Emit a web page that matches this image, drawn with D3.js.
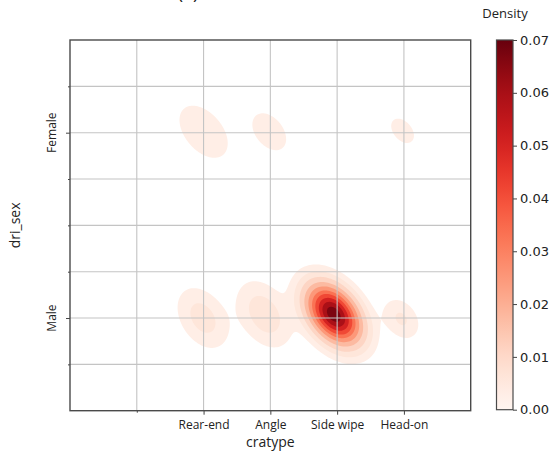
<!doctype html>
<html>
<head>
  <meta charset="utf-8">
  <title>KDE: cratype vs dri_sex</title>
  <script src="https://cdnjs.cloudflare.com/ajax/libs/d3/7.8.5/d3.min.js"></script>
  <style>
    body { margin: 0; background: #fff; }
    text { font-family: "Open Sans", sans-serif; fill: #222; }
    .cbar text { font-family: "DejaVu Sans", sans-serif; }
  </style>
</head>
<body>
<svg id="chart" width="556" height="457"></svg>
<script>
// categories (coded 0..n-1 on the axes)
const crashTypes = ['Rear-end', 'Angle', 'Side wipe', 'Head-on'];
const sexes = ['Male', 'Female'];
const densityTicks = [0, 0.01, 0.02, 0.03, 0.04, 0.05, 0.06, 0.07];
// contour levels of the filled kde
const levels = [0.0015, 0.004, 0.008, 0.014, 0.021, 0.029, 0.037, 0.046, 0.055, 0.064];

// kde bumps, in axis units
const bumpX    = [1.95, -0.01, 0.91, 2.96, 0.0, 0.985, 2.98];
const bumpY    = [0.02, 0.0, 0.02, -0.005, 1.005, 1.005, 1.01];
const bumpPeak = [0.07, 0.0055, 0.0062, 0.0045, 0.0035, 0.0028, 0.0022];
const bumpSdX  = [0.245, 0.235, 0.245, 0.172, 0.277, 0.225, 0.195];
const bumpSdY  = [0.097, 0.1, 0.106, 0.069, 0.108, 0.089, 0.075];
const bumpRho  = [-0.4, -0.35, -0.35, -0.3, -0.45, -0.4, -0.4];

const svg = d3.select('#chart');
const mLeft = 70, mRight = 470.7, mTop = 40, mBottom = 410.7;

const x = d3.scaleLinear().domain([-2, 4]).range([mLeft, mRight]);
const y = d3.scaleLinear().domain([-0.5, 1.5]).range([mBottom, mTop]);
const vmax = 0.07;

function density(xv, yv) {
  let s = 0;
  for (let k = 0; k < bumpX.length; k++) {
    const u = (xv - bumpX[k]) / bumpSdX[k];
    const v = (yv - bumpY[k]) / bumpSdY[k];
    const r = bumpRho[k];
    s += bumpPeak[k] * Math.exp(-0.5 / (1 - r * r) * (u * u - 2 * r * u * v + v * v));
  }
  return s;
}

// sample the field on a grid over the plot area
const step = 1.5;
const nx = Math.ceil((mRight - mLeft) / step) + 1;
const ny = Math.ceil((mBottom - mTop) / step) + 1;
const values = new Array(nx * ny);
for (let j = 0; j < ny; j++) {
  for (let i = 0; i < nx; i++) {
    values[j * nx + i] = density(x.invert(mLeft + i * step), y.invert(mTop + j * step));
  }
}

const contours = d3.contours().size([nx, ny]).thresholds(levels)(values);
const toPx = d3.geoTransform({
  point: function (gx, gy) {
    this.stream.point(mLeft + (gx - 0.5) * step, mTop + (gy - 0.5) * step);
  }
});
const path = d3.geoPath(toPx);

svg.append('clipPath').attr('id', 'plotclip')
  .append('rect').attr('x', mLeft).attr('y', mTop)
  .attr('width', mRight - mLeft).attr('height', mBottom - mTop);

svg.append('g')
  .attr('clip-path', 'url(#plotclip)')
  .selectAll('path')
  .data(contours)
  .join('path')
  .attr('d', path)
  .attr('fill', (d, i) => {
    const hi = i + 1 < levels.length ? levels[i + 1] : vmax;
    return d3.interpolateReds((levels[i] + hi) / 2 / vmax);
  });

// grid on top of the fills
const xGrid = [-1, 0, 1, 2, 3];
const yGrid = d3.range(-0.25, 1.26, 0.25);
svg.append('g').selectAll('line').data(xGrid).join('line')
  .attr('x1', d => x(d)).attr('x2', d => x(d))
  .attr('y1', mTop).attr('y2', mBottom)
  .attr('stroke', '#c4c4c4').attr('stroke-width', 1.1);
svg.append('g').selectAll('line').data(yGrid).join('line')
  .attr('y1', d => y(d)).attr('y2', d => y(d))
  .attr('x1', mLeft).attr('x2', mRight)
  .attr('stroke', '#c4c4c4').attr('stroke-width', 1.1);

// axes
const xAxis = d3.axisBottom(x).tickValues(xGrid)
  .tickFormat(d => crashTypes[d] || '').tickSize(4).tickPadding(6);
const gx = svg.append('g').attr('transform', `translate(0,${mBottom})`).call(xAxis);
gx.select('.domain').remove();
gx.selectAll('.tick line').attr('stroke', '#444').attr('y2', d => d < 0 ? 2 : 4);
gx.selectAll('.tick text').style('font-size', '12px').style('font-family', '"Open Sans", sans-serif').attr('fill', '#222');

const yAxis = d3.axisLeft(y).tickValues(yGrid).tickFormat(() => '').tickSize(4);
const gy = svg.append('g').attr('transform', `translate(${mLeft},0)`).call(yAxis);
gy.select('.domain').remove();
gy.selectAll('.tick line').attr('stroke', '#444')
  .attr('x2', d => Math.abs(d - Math.round(d)) < 1e-6 ? -4 : -2);

svg.append('g').selectAll('text').data(sexes).join('text')
  .attr('transform', (d, i) => `translate(56,${y(i)}) rotate(-90)`)
  .attr('text-anchor', 'middle')
  .style('font-size', '12px')
  .text(d => d);

svg.append('rect')
  .attr('x', mLeft).attr('y', mTop)
  .attr('width', mRight - mLeft).attr('height', mBottom - mTop)
  .attr('fill', 'none').attr('stroke', '#4a4a4a').attr('stroke-width', 1.4);

svg.append('text').attr('x', (mLeft + mRight) / 2).attr('y', 447)
  .attr('text-anchor', 'middle').style('font-size', '14px').text('cratype');
svg.append('text')
  .attr('transform', `translate(19.5,${(mTop + mBottom) / 2}) rotate(-90)`)
  .attr('text-anchor', 'middle').style('font-size', '14px').text('dri_sex');

// panel label, cut off at the top edge as in the source figure
svg.append('text').attr('x', 188).attr('y', -1.5)
  .attr('text-anchor', 'middle').style('font-size', '18px').text('(a)');

// colour bar
const cb = svg.append('g').attr('class', 'cbar');
const cbX = 496.5, cbW = 16.5;
const c = d3.scaleLinear().domain([0, vmax]).range([mBottom - 1, mTop]);
const grad = svg.append('defs').append('linearGradient')
  .attr('id', 'reds').attr('x1', 0).attr('y1', 1).attr('x2', 0).attr('y2', 0);
grad.selectAll('stop').data(d3.range(0, 1.001, 0.05)).join('stop')
  .attr('offset', d => d)
  .attr('stop-color', d => d3.interpolateReds(d));
cb.append('rect')
  .attr('x', cbX).attr('y', c(vmax))
  .attr('width', cbW).attr('height', c(0) - c(vmax))
  .attr('fill', 'url(#reds)').attr('stroke', '#4a4a4a').attr('stroke-width', 1.2);
const cAxis = d3.axisRight(c).tickValues(densityTicks)
  .tickFormat(d3.format('.2f')).tickSize(4).tickPadding(3);
const gc = cb.append('g').attr('transform', `translate(${cbX + cbW},0)`).call(cAxis);
gc.select('.domain').remove();
gc.selectAll('.tick line').attr('stroke', '#444');
gc.selectAll('.tick text').style('font-size', '13px')
  .style('font-family', '"DejaVu Sans", sans-serif').attr('fill', '#222');

svg.append('text').attr('x', 505).attr('y', 18)
  .attr('text-anchor', 'middle').style('font-size', '13px').text('Density');
</script>
</body>
</html>
